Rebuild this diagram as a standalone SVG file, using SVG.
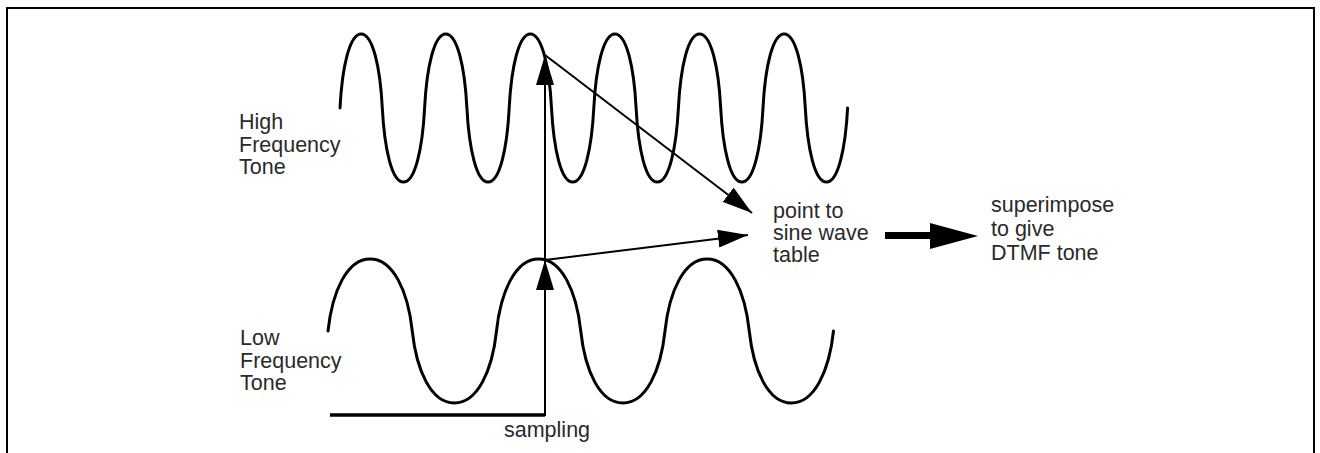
<svg xmlns="http://www.w3.org/2000/svg" width="1320" height="453" viewBox="0 0 1320 453">
  <style>
    .wave { fill: none; stroke: #000; stroke-width: 3; stroke-linecap: round; stroke-linejoin: round; }
    .conn { fill: none; stroke: #000; stroke-width: 2; }
    .lbl { font-family: "Liberation Sans", Arial, sans-serif; font-size: 21.5px; fill: #2a2a2a; }
    .frame { fill: none; stroke: #000; stroke-width: 2; }
  </style>
  <defs>
    <marker id="ah" markerUnits="userSpaceOnUse" viewBox="0 -9 30 18" refX="30" refY="0" markerWidth="30" markerHeight="18" orient="auto">
      <path d="M0,-9 L30,0 L0,9 z" fill="#000"/>
    </marker>
  </defs>
  <rect width="1320" height="453" fill="#fff"/>
  <path class="frame" d="M7,453 V8 H1314 V453"/>

  <g id="high-wave">
    <path class="wave" d="M340,108 c2.115,-40.7 9.52,-74 21.15,-74
      s19.035,33.3 21.15,74 s9.52,74 21.15,74 s19.035,-33.3 21.15,-74 s9.52,-74 21.15,-74
      s19.035,33.3 21.15,74 s9.52,74 21.15,74 s19.035,-33.3 21.15,-74 s9.52,-74 21.15,-74
      s19.035,33.3 21.15,74 s9.52,74 21.15,74 s19.035,-33.3 21.15,-74 s9.52,-74 21.15,-74
      s19.035,33.3 21.15,74 s9.52,74 21.15,74 s19.035,-33.3 21.15,-74 s9.52,-74 21.15,-74
      s19.035,33.3 21.15,74 s9.52,74 21.15,74 s19.035,-33.3 21.15,-74 s9.52,-74 21.15,-74
      s19.035,33.3 21.15,74 s9.52,74 21.15,74 s19.035,-33.3 21.15,-74"/>
    <text class="lbl" x="239" y="129">High</text>
    <text class="lbl" x="239" y="152">Frequency</text>
    <text class="lbl" x="239" y="174">Tone</text>
  </g>

  <g id="low-wave">
    <path class="wave" d="M328,331 c4.213,-39.6 18.956,-72 42.125,-72
      s37.91,32.4 42.125,72 s18.956,72 42.125,72 s37.91,-32.4 42.125,-72 s18.956,-72 42.125,-72
      s37.91,32.4 42.125,72 s18.956,72 42.125,72 s37.91,-32.4 42.125,-72 s18.956,-72 42.125,-72
      s37.91,32.4 42.125,72 s18.956,72 42.125,72 s37.91,-32.4 42.125,-72"/>
    <text class="lbl" x="240" y="345">Low</text>
    <text class="lbl" x="240" y="368">Frequency</text>
    <text class="lbl" x="240" y="390">Tone</text>
  </g>

  <g id="sampling">
    <text class="lbl" x="504" y="437">sampling</text>
  </g>

  <g id="sine-table">
    <text class="lbl" x="773" y="218">point to</text>
    <text class="lbl" x="773" y="240">sine wave</text>
    <text class="lbl" x="773" y="262">table</text>
  </g>

  <g id="dtmf">
    <text class="lbl" x="991" y="212">superimpose</text>
    <text class="lbl" x="991" y="236">to give</text>
    <text class="lbl" x="991" y="260">DTMF tone</text>
  </g>

  <g id="connectors">
    <path d="M330,415 H545" fill="none" stroke="#000" stroke-width="3.5"/>
    <path class="conn" d="M545,416 V260" stroke-width="2.5" marker-end="url(#ah)"/>
    <path class="conn" d="M545,260 V55" stroke-width="2.5" marker-end="url(#ah)"/>
    <path class="conn" d="M545,55 L752,213" marker-end="url(#ah)"/>
    <path class="conn" d="M545,260 L748,235" marker-end="url(#ah)"/>
    <rect x="885" y="232" width="48" height="7" fill="#000"/>
    <polygon points="930,223 978,236 930,249" fill="#000"/>
  </g>
</svg>
